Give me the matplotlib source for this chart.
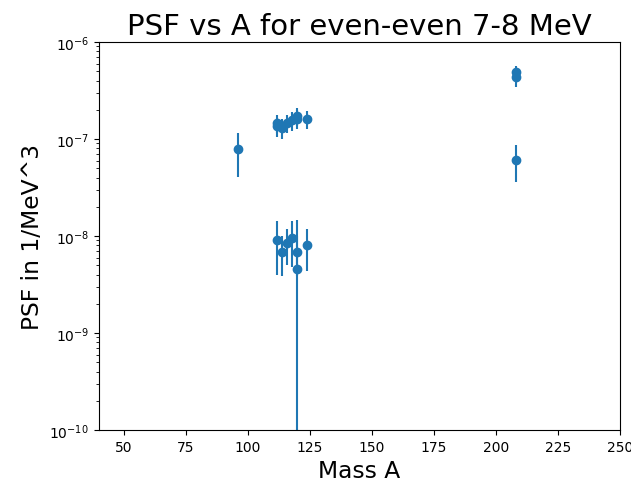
import matplotlib
matplotlib.use("Agg")
import matplotlib.pyplot as plt
import numpy as np

# Mass number of each even-even nucleus
mass_a = [96, 112, 112, 114, 116, 118, 120, 120, 124,
          112, 114, 116, 118, 120, 120, 124,
          208, 208, 208]

# Photon strength function in 1/MeV^3, 7-8 MeV bin
psf = [7.8e-8, 1.36e-7, 1.45e-7, 1.30e-7, 1.46e-7, 1.57e-7, 1.73e-7, 1.62e-7, 1.60e-7,
       9.1e-9, 6.9e-9, 8.4e-9, 9.5e-9, 6.9e-9, 4.6e-9, 8.1e-9,
       4.9e-7, 4.4e-7, 6.1e-8]

# Uncertainty on each value
psf_err = [3.7e-8, 3.0e-8, 3.0e-8, 3.0e-8, 3.2e-8, 3.5e-8, 3.8e-8, 3.5e-8, 3.4e-8,
           5.1e-9, 3.0e-9, 3.4e-9, 4.7e-9, 3.0e-9, 1.0e-8, 3.7e-9,
           8.0e-8, 1.0e-7, 2.5e-8]

fig = plt.figure(figsize=(6.31, 4.85), dpi=100)
ax = fig.add_axes([0.1564, 0.1113, 0.8262, 0.80])

ax.errorbar(mass_a, psf, yerr=psf_err, fmt='o')
ax.set_yscale('log')
ax.set_xlim(40, 250)
ax.set_ylim(1e-10, 1e-6)

ax.set_title("PSF vs A for even-even 7-8 MeV", fontsize=21)
ax.set_xlabel("Mass A", fontsize=16.8)
ax.set_ylabel("PSF in 1/MeV^3", fontsize=16.8)

fig.savefig("out.png", dpi=100)
